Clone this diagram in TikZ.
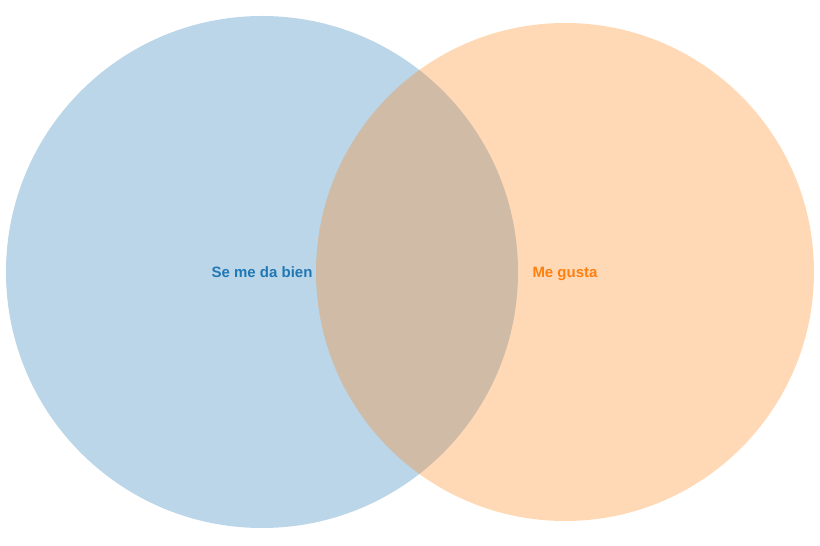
\documentclass[tikz,border=0pt]{standalone}
\usepackage{fontspec}
\setmainfont{Liberation Sans}
\usepackage{tikz}
\usetikzlibrary{positioning}
\definecolor{tabblue}{HTML}{1F77B4}
\definecolor{taborange}{HTML}{FF7F0E}

\begin{document}
\begin{tikzpicture}[
    x=1pt, y=1pt,
    setcircle/.style={circle, draw=none, inner sep=0pt, fill opacity=0.3},
    setlabel/.style={font=\fontsize{15}{18}\selectfont\bfseries, inner sep=0pt, text height=11pt, text depth=3pt, yshift=-2pt}
]
\useasboundingbox (0,0) rectangle (820,546);

% Sets
\node (good) [setcircle, fill=tabblue, minimum size=512pt] at (262,274) {};
\node (like) [setcircle, fill=taborange, minimum size=498pt] at (565,274) {};

% Labels
\node (goodlabel) [setlabel, text=tabblue] at (good.center) {Se me da bien};
\node (likelabel) [setlabel, text=taborange] at (like.center) {Me gusta};

\end{tikzpicture}
\end{document}
